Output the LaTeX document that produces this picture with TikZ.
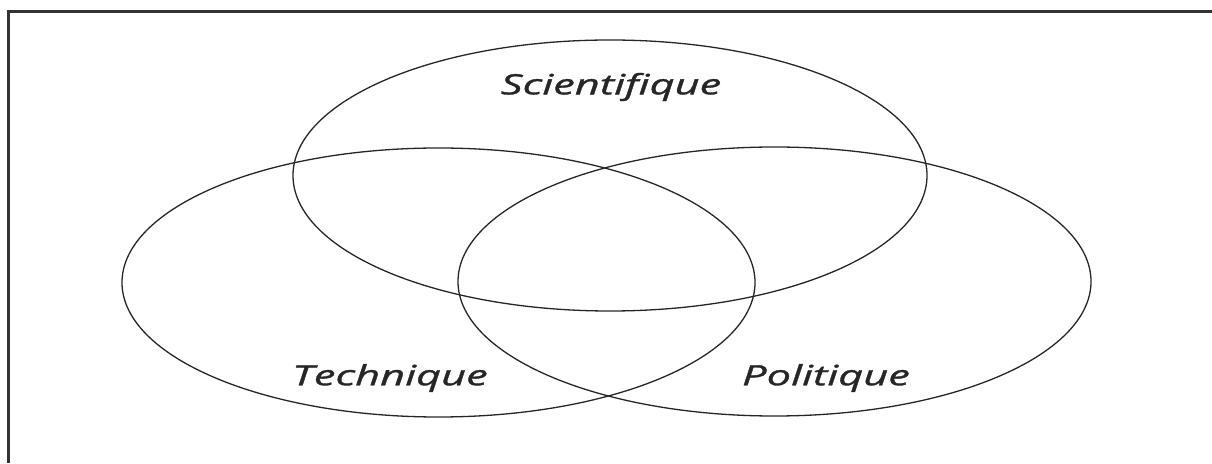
\documentclass[tikz,border=0pt]{standalone}
\usepackage{fontspec}
\usetikzlibrary{shapes.geometric}
\newfontfamily\labelfont[FakeStretch=1.55, FakeBold=1.2]{Open Sans}
\begin{document}
\begin{tikzpicture}[x=1pt,y=1pt,
  setell/.style={draw=black!85, line width=1.3pt, ellipse, inner sep=0pt, outer sep=0pt},
  setlabel/.style={font=\labelfont\itshape\fontsize{28}{33}\selectfont, text=black!85, inner sep=0pt},
  frameline/.style={draw=black!80, line width=3pt}]
\useasboundingbox (0,0) rectangle (1212,463);
\coordinate (tl) at (8,451.5);
\coordinate (bl) at (8,0);
\coordinate (tr) at (1212,451.5);
\draw[frameline] (bl) -- (tl) -- (tr);
\node[setell, minimum width=634pt, minimum height=271pt] (sci) at (610,287.5) {};
\node[setell, minimum width=633pt, minimum height=269pt] (tech) at (438.5,180.5) {};
\node[setell, minimum width=633pt, minimum height=269pt] (pol) at (774.5,181.5) {};
\node[setlabel] (lsci) at (611,376) {Scientifique};
\node[setlabel] (ltech) at (390,85) {Technique};
\node[setlabel] (lpol) at (826,85) {Politique};
\end{tikzpicture}
\end{document}
